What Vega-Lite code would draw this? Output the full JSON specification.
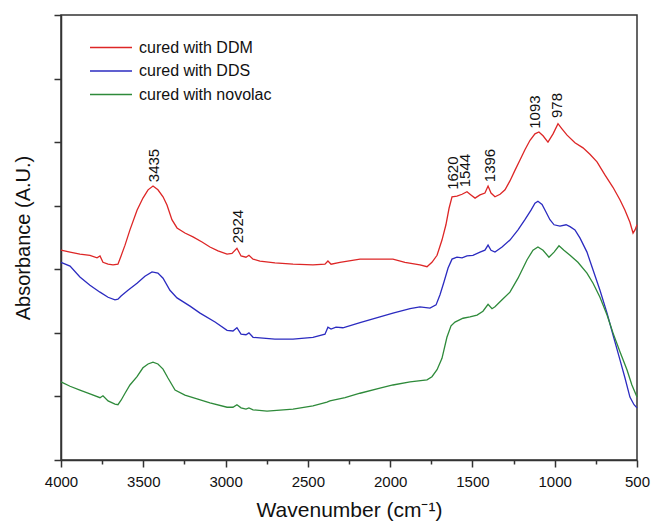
{
  "$schema": "https://vega.github.io/schema/vega-lite/v6.json",
  "width": 576,
  "height": 445,
  "autosize": {"type": "none"},
  "padding": {"left": 61, "top": 15, "right": 15, "bottom": 61},
  "background": "white",
  "config": {
    "font": "Liberation Sans",
    "view": {"stroke": "#333", "strokeWidth": 1.5}
  },
  "layer": [
    {
      "data": {"values": [
        {"s":"cured with DDM","w":4000,"a":3.30},{"s":"cured with DDM","w":3945,"a":3.27},{"s":"cured with DDM","w":3885,"a":3.24},{"s":"cured with DDM","w":3824,"a":3.22},{"s":"cured with DDM","w":3781,"a":3.18},{"s":"cured with DDM","w":3763,"a":3.21},{"s":"cured with DDM","w":3745,"a":3.11},{"s":"cured with DDM","w":3714,"a":3.08},{"s":"cured with DDM","w":3684,"a":3.07},{"s":"cured with DDM","w":3654,"a":3.08},{"s":"cured with DDM","w":3635,"a":3.21},{"s":"cured with DDM","w":3611,"a":3.38},{"s":"cured with DDM","w":3581,"a":3.62},{"s":"cured with DDM","w":3538,"a":3.93},{"s":"cured with DDM","w":3502,"a":4.12},{"s":"cured with DDM","w":3471,"a":4.25},{"s":"cured with DDM","w":3441,"a":4.31},{"s":"cured with DDM","w":3411,"a":4.25},{"s":"cured with DDM","w":3380,"a":4.14},{"s":"cured with DDM","w":3356,"a":4.01},{"s":"cured with DDM","w":3326,"a":3.78},{"s":"cured with DDM","w":3295,"a":3.65},{"s":"cured with DDM","w":3247,"a":3.57},{"s":"cured with DDM","w":3198,"a":3.51},{"s":"cured with DDM","w":3143,"a":3.43},{"s":"cured with DDM","w":3095,"a":3.35},{"s":"cured with DDM","w":3046,"a":3.29},{"s":"cured with DDM","w":2991,"a":3.24},{"s":"cured with DDM","w":2961,"a":3.25},{"s":"cured with DDM","w":2931,"a":3.33},{"s":"cured with DDM","w":2906,"a":3.21},{"s":"cured with DDM","w":2876,"a":3.19},{"s":"cured with DDM","w":2858,"a":3.22},{"s":"cured with DDM","w":2833,"a":3.16},{"s":"cured with DDM","w":2791,"a":3.13},{"s":"cured with DDM","w":2700,"a":3.10},{"s":"cured with DDM","w":2590,"a":3.08},{"s":"cured with DDM","w":2469,"a":3.07},{"s":"cured with DDM","w":2396,"a":3.08},{"s":"cured with DDM","w":2378,"a":3.13},{"s":"cured with DDM","w":2359,"a":3.08},{"s":"cured with DDM","w":2305,"a":3.11},{"s":"cured with DDM","w":2183,"a":3.16},{"s":"cured with DDM","w":2062,"a":3.16},{"s":"cured with DDM","w":1983,"a":3.16},{"s":"cured with DDM","w":1910,"a":3.11},{"s":"cured with DDM","w":1819,"a":3.07},{"s":"cured with DDM","w":1776,"a":3.04},{"s":"cured with DDM","w":1746,"a":3.11},{"s":"cured with DDM","w":1715,"a":3.22},{"s":"cured with DDM","w":1685,"a":3.46},{"s":"cured with DDM","w":1661,"a":3.70},{"s":"cured with DDM","w":1642,"a":3.96},{"s":"cured with DDM","w":1624,"a":4.14},{"s":"cured with DDM","w":1594,"a":4.15},{"s":"cured with DDM","w":1563,"a":4.18},{"s":"cured with DDM","w":1533,"a":4.22},{"s":"cured with DDM","w":1509,"a":4.17},{"s":"cured with DDM","w":1484,"a":4.12},{"s":"cured with DDM","w":1454,"a":4.17},{"s":"cured with DDM","w":1424,"a":4.20},{"s":"cured with DDM","w":1405,"a":4.31},{"s":"cured with DDM","w":1387,"a":4.20},{"s":"cured with DDM","w":1363,"a":4.14},{"s":"cured with DDM","w":1332,"a":4.18},{"s":"cured with DDM","w":1302,"a":4.25},{"s":"cured with DDM","w":1272,"a":4.39},{"s":"cured with DDM","w":1241,"a":4.56},{"s":"cured with DDM","w":1211,"a":4.72},{"s":"cured with DDM","w":1181,"a":4.88},{"s":"cured with DDM","w":1150,"a":5.03},{"s":"cured with DDM","w":1120,"a":5.13},{"s":"cured with DDM","w":1096,"a":5.16},{"s":"cured with DDM","w":1071,"a":5.10},{"s":"cured with DDM","w":1041,"a":5.00},{"s":"cured with DDM","w":1010,"a":5.13},{"s":"cured with DDM","w":980,"a":5.29},{"s":"cured with DDM","w":956,"a":5.21},{"s":"cured with DDM","w":925,"a":5.11},{"s":"cured with DDM","w":877,"a":4.99},{"s":"cured with DDM","w":828,"a":4.91},{"s":"cured with DDM","w":786,"a":4.81},{"s":"cured with DDM","w":743,"a":4.69},{"s":"cured with DDM","w":694,"a":4.48},{"s":"cured with DDM","w":646,"a":4.29},{"s":"cured with DDM","w":603,"a":4.09},{"s":"cured with DDM","w":573,"a":3.93},{"s":"cured with DDM","w":543,"a":3.74},{"s":"cured with DDM","w":524,"a":3.57},{"s":"cured with DDM","w":512,"a":3.62},{"s":"cured with DDM","w":500,"a":3.70},

        {"s":"cured with DDS","w":4000,"a":3.11},{"s":"cured with DDS","w":3945,"a":3.05},{"s":"cured with DDS","w":3885,"a":2.88},{"s":"cured with DDS","w":3824,"a":2.75},{"s":"cured with DDS","w":3763,"a":2.64},{"s":"cured with DDS","w":3714,"a":2.56},{"s":"cured with DDS","w":3672,"a":2.52},{"s":"cured with DDS","w":3654,"a":2.53},{"s":"cured with DDS","w":3635,"a":2.58},{"s":"cured with DDS","w":3593,"a":2.67},{"s":"cured with DDS","w":3538,"a":2.78},{"s":"cured with DDS","w":3490,"a":2.89},{"s":"cured with DDS","w":3447,"a":2.96},{"s":"cured with DDS","w":3411,"a":2.94},{"s":"cured with DDS","w":3380,"a":2.86},{"s":"cured with DDS","w":3338,"a":2.67},{"s":"cured with DDS","w":3295,"a":2.55},{"s":"cured with DDS","w":3216,"a":2.42},{"s":"cured with DDS","w":3155,"a":2.31},{"s":"cured with DDS","w":3064,"a":2.17},{"s":"cured with DDS","w":2991,"a":2.04},{"s":"cured with DDS","w":2955,"a":2.03},{"s":"cured with DDS","w":2931,"a":2.08},{"s":"cured with DDS","w":2906,"a":1.98},{"s":"cured with DDS","w":2876,"a":1.97},{"s":"cured with DDS","w":2858,"a":2.00},{"s":"cured with DDS","w":2833,"a":1.93},{"s":"cured with DDS","w":2791,"a":1.92},{"s":"cured with DDS","w":2700,"a":1.90},{"s":"cured with DDS","w":2590,"a":1.90},{"s":"cured with DDS","w":2469,"a":1.93},{"s":"cured with DDS","w":2396,"a":1.98},{"s":"cured with DDS","w":2378,"a":2.09},{"s":"cured with DDS","w":2359,"a":2.06},{"s":"cured with DDS","w":2329,"a":2.09},{"s":"cured with DDS","w":2287,"a":2.08},{"s":"cured with DDS","w":2183,"a":2.16},{"s":"cured with DDS","w":2062,"a":2.25},{"s":"cured with DDS","w":1983,"a":2.31},{"s":"cured with DDS","w":1879,"a":2.38},{"s":"cured with DDS","w":1819,"a":2.41},{"s":"cured with DDS","w":1758,"a":2.39},{"s":"cured with DDS","w":1721,"a":2.44},{"s":"cured with DDS","w":1697,"a":2.60},{"s":"cured with DDS","w":1673,"a":2.80},{"s":"cured with DDS","w":1648,"a":3.02},{"s":"cured with DDS","w":1624,"a":3.16},{"s":"cured with DDS","w":1594,"a":3.19},{"s":"cured with DDS","w":1563,"a":3.18},{"s":"cured with DDS","w":1533,"a":3.21},{"s":"cured with DDS","w":1497,"a":3.22},{"s":"cured with DDS","w":1454,"a":3.27},{"s":"cured with DDS","w":1424,"a":3.30},{"s":"cured with DDS","w":1405,"a":3.38},{"s":"cured with DDS","w":1387,"a":3.30},{"s":"cured with DDS","w":1363,"a":3.27},{"s":"cured with DDS","w":1320,"a":3.35},{"s":"cured with DDS","w":1272,"a":3.46},{"s":"cured with DDS","w":1223,"a":3.62},{"s":"cured with DDS","w":1181,"a":3.78},{"s":"cured with DDS","w":1144,"a":3.93},{"s":"cured with DDS","w":1120,"a":4.04},{"s":"cured with DDS","w":1102,"a":4.07},{"s":"cured with DDS","w":1077,"a":4.02},{"s":"cured with DDS","w":1053,"a":3.90},{"s":"cured with DDS","w":1029,"a":3.78},{"s":"cured with DDS","w":1004,"a":3.70},{"s":"cured with DDS","w":968,"a":3.68},{"s":"cured with DDS","w":931,"a":3.70},{"s":"cured with DDS","w":907,"a":3.67},{"s":"cured with DDS","w":877,"a":3.62},{"s":"cured with DDS","w":846,"a":3.49},{"s":"cured with DDS","w":804,"a":3.27},{"s":"cured with DDS","w":767,"a":2.99},{"s":"cured with DDS","w":725,"a":2.67},{"s":"cured with DDS","w":682,"a":2.31},{"s":"cured with DDS","w":646,"a":1.97},{"s":"cured with DDS","w":603,"a":1.57},{"s":"cured with DDS","w":573,"a":1.29},{"s":"cured with DDS","w":543,"a":0.99},{"s":"cured with DDS","w":518,"a":0.87},{"s":"cured with DDS","w":500,"a":0.82},

        {"s":"cured with novolac","w":4000,"a":1.23},{"s":"cured with novolac","w":3945,"a":1.16},{"s":"cured with novolac","w":3885,"a":1.10},{"s":"cured with novolac","w":3824,"a":1.04},{"s":"cured with novolac","w":3763,"a":0.98},{"s":"cured with novolac","w":3745,"a":1.01},{"s":"cured with novolac","w":3714,"a":0.93},{"s":"cured with novolac","w":3672,"a":0.88},{"s":"cured with novolac","w":3654,"a":0.87},{"s":"cured with novolac","w":3635,"a":0.94},{"s":"cured with novolac","w":3611,"a":1.05},{"s":"cured with novolac","w":3581,"a":1.18},{"s":"cured with novolac","w":3538,"a":1.31},{"s":"cured with novolac","w":3502,"a":1.45},{"s":"cured with novolac","w":3471,"a":1.51},{"s":"cured with novolac","w":3441,"a":1.54},{"s":"cured with novolac","w":3411,"a":1.51},{"s":"cured with novolac","w":3380,"a":1.43},{"s":"cured with novolac","w":3350,"a":1.29},{"s":"cured with novolac","w":3307,"a":1.10},{"s":"cured with novolac","w":3247,"a":1.02},{"s":"cured with novolac","w":3198,"a":0.98},{"s":"cured with novolac","w":3095,"a":0.90},{"s":"cured with novolac","w":2991,"a":0.83},{"s":"cured with novolac","w":2955,"a":0.83},{"s":"cured with novolac","w":2931,"a":0.87},{"s":"cured with novolac","w":2906,"a":0.82},{"s":"cured with novolac","w":2876,"a":0.80},{"s":"cured with novolac","w":2858,"a":0.82},{"s":"cured with novolac","w":2833,"a":0.79},{"s":"cured with novolac","w":2748,"a":0.77},{"s":"cured with novolac","w":2590,"a":0.80},{"s":"cured with novolac","w":2469,"a":0.85},{"s":"cured with novolac","w":2384,"a":0.91},{"s":"cured with novolac","w":2366,"a":0.93},{"s":"cured with novolac","w":2274,"a":0.98},{"s":"cured with novolac","w":2183,"a":1.05},{"s":"cured with novolac","w":2062,"a":1.13},{"s":"cured with novolac","w":1983,"a":1.18},{"s":"cured with novolac","w":1879,"a":1.23},{"s":"cured with novolac","w":1776,"a":1.26},{"s":"cured with novolac","w":1746,"a":1.31},{"s":"cured with novolac","w":1715,"a":1.42},{"s":"cured with novolac","w":1685,"a":1.60},{"s":"cured with novolac","w":1655,"a":1.93},{"s":"cured with novolac","w":1630,"a":2.11},{"s":"cured with novolac","w":1606,"a":2.17},{"s":"cured with novolac","w":1557,"a":2.23},{"s":"cured with novolac","w":1515,"a":2.25},{"s":"cured with novolac","w":1472,"a":2.28},{"s":"cured with novolac","w":1436,"a":2.34},{"s":"cured with novolac","w":1405,"a":2.45},{"s":"cured with novolac","w":1381,"a":2.38},{"s":"cured with novolac","w":1363,"a":2.41},{"s":"cured with novolac","w":1320,"a":2.52},{"s":"cured with novolac","w":1272,"a":2.64},{"s":"cured with novolac","w":1223,"a":2.86},{"s":"cured with novolac","w":1168,"a":3.15},{"s":"cured with novolac","w":1132,"a":3.30},{"s":"cured with novolac","w":1102,"a":3.35},{"s":"cured with novolac","w":1071,"a":3.30},{"s":"cured with novolac","w":1035,"a":3.19},{"s":"cured with novolac","w":1004,"a":3.27},{"s":"cured with novolac","w":974,"a":3.37},{"s":"cured with novolac","w":944,"a":3.30},{"s":"cured with novolac","w":907,"a":3.22},{"s":"cured with novolac","w":859,"a":3.11},{"s":"cured with novolac","w":804,"a":2.94},{"s":"cured with novolac","w":767,"a":2.78},{"s":"cured with novolac","w":725,"a":2.56},{"s":"cured with novolac","w":682,"a":2.28},{"s":"cured with novolac","w":646,"a":2.00},{"s":"cured with novolac","w":603,"a":1.70},{"s":"cured with novolac","w":561,"a":1.42},{"s":"cured with novolac","w":531,"a":1.18},{"s":"cured with novolac","w":500,"a":0.99}
      ]},
      "mark": {"type": "line", "strokeWidth": 1.3, "interpolate": "linear"},
      "encoding": {
        "x": {
          "field": "w", "type": "quantitative",
          "scale": {"domain": [500, 4000], "reverse": true, "nice": false, "zero": false},
          "axis": {
            "title": "Wavenumber (cm⁻¹)",
            "values": [500, 750, 1000, 1250, 1500, 1750, 2000, 2250, 2500, 2750, 3000, 3250, 3500, 3750, 4000],
            "format": "d",
            "labelExpr": "datum.value % 500 === 0 ? datum.label : ''",
            "labelOverlap": false,
            "labelFlush": false,
            "labelFontSize": 15,
            "labelColor": "#111",
            "labelPadding": 7,
            "tickSize": {"condition": {"test": "datum.value % 500 === 0", "value": 7}, "value": 4},
            "tickColor": "#333",
            "tickWidth": 1.5,
            "domainColor": "#333",
            "domainWidth": 1.5,
            "grid": false,
            "titleFontSize": 21,
            "titleFontWeight": "normal",
            "titleColor": "#111",
            "titlePadding": 10
          }
        },
        "y": {
          "field": "a", "type": "quantitative",
          "scale": {"domain": [0, 7], "nice": false, "zero": false},
          "axis": {
            "title": "Absorbance (A.U.)",
            "values": [0, 1, 2, 3, 4, 5, 6, 7],
            "labels": false,
            "tickSize": 7,
            "tickColor": "#333",
            "tickWidth": 1.5,
            "domainColor": "#333",
            "domainWidth": 1.5,
            "grid": false,
            "titleFontSize": 20,
            "titleFontWeight": "normal",
            "titleColor": "#111",
            "titlePadding": 20
          }
        },
        "color": {
          "field": "s", "type": "nominal",
          "scale": {"domain": ["cured with DDM", "cured with DDS", "cured with novolac"], "range": ["#dd2626", "#2b2bc0", "#2e8a3a"]},
          "legend": {
            "title": null,
            "orient": "none",
            "legendX": 28,
            "legendY": 24,
            "padding": 0,
            "symbolType": "stroke",
            "symbolSize": 1764,
            "symbolStrokeWidth": 1.5,
            "clipHeight": 17,
            "rowPadding": 6.5,
            "labelFontSize": 16,
            "labelColor": "#111",
            "labelOffset": 6
          }
        }
      }
    },
    {
      "data": {"values": [
        {"w": 3435, "a": 4.37, "t": "3435"},
        {"w": 2924, "a": 3.41, "t": "2924"},
        {"w": 1620, "a": 4.25, "t": "1620"},
        {"w": 1544, "a": 4.29, "t": "1544"},
        {"w": 1396, "a": 4.37, "t": "1396"},
        {"w": 1120, "a": 5.21, "t": "1093"},
        {"w": 985, "a": 5.38, "t": "978"}
      ]},
      "mark": {"type": "text", "angle": 270, "align": "left", "baseline": "middle", "fontSize": 15, "color": "#111"},
      "encoding": {
        "x": {"field": "w", "type": "quantitative"},
        "y": {"field": "a", "type": "quantitative"},
        "text": {"field": "t"}
      }
    }
  ]
}
